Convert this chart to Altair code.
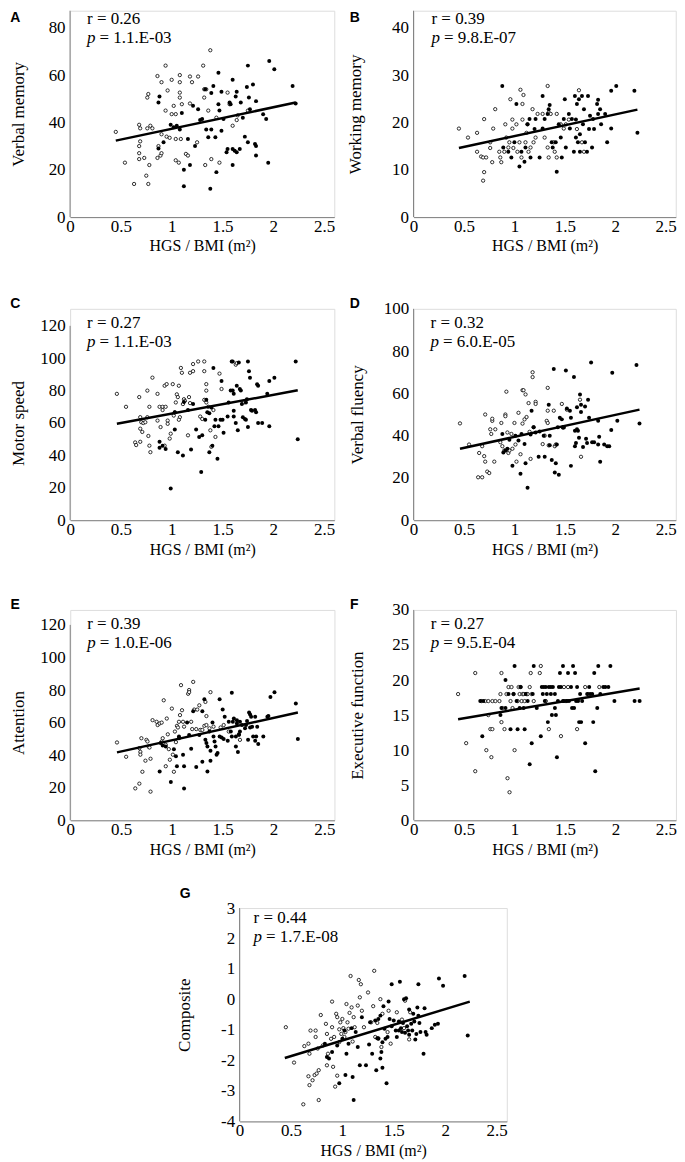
import altair as alt
import pandas as pd

SERIF = "Liberation Serif, Times New Roman, DejaVu Serif, serif"
SANS = "Liberation Sans, Arial, DejaVu Sans, sans-serif"
AXIS_COLOR = "#808080"

X_TICKS = [0, 0.5, 1, 1.5, 2, 2.5]
X_TITLE = "HGS / BMI (m²)"

# ---------------- Panel A: Verbal memory ----------------
A_open = [(0.45,36),(0.54,23),(0.63,14),(0.68,39),(0.69,37.5),(0.68,30),(0.69,32),(0.68,27),(0.68,24.5),(0.73,25),
          (0.75,17.5),(0.77,14),(0.78,22),(0.76,37.5),(0.79,38.6),(0.81,37.5),(0.76,50.5),(0.77,52),(0.86,59.6),(0.86,25),
          (0.87,30),(0.89,26),(0.9,27),(0.9,35),(0.9,57),(0.94,64),(0.94,45),(0.96,53.5),(0.95,34),(0.98,33.5),
          (1.0,58),(1.0,43.5),(1.04,43.5),(1.02,47),(1.04,33),(1.04,24),(1.07,23),(1.08,50.5),(1.08,52.6),(1.08,60),
          (1.08,57),(1.1,47.7),(1.09,33),(1.14,26.7),(1.16,26),(1.18,59.4),(1.18,48),(1.2,57),(1.26,59.4),(1.25,31.6),
          (1.31,64),(1.32,54),(1.32,50.5),(1.33,22),(1.34,54),(1.36,45),(1.38,70.5),(1.39,24.5),(1.44,42),(1.47,23),
          (1.55,52.6),(1.57,47.7),(1.6,38.6),(1.64,41),(1.65,43),(1.75,45)]
A_fill = [(0.87,48.4),(0.88,51),(0.87,29),(0.92,31.6),(0.99,39),(1.02,38),(1.05,38.6),(1.08,37),(1.1,44),(1.12,20),
          (1.12,13),(1.16,33),(1.18,22),(1.21,47),(1.23,30),(1.26,45.6),(1.28,41),(1.3,41.4),(1.33,54),(1.34,37),
          (1.36,33.7),(1.38,12),(1.39,37),(1.39,52.4),(1.41,55.4),(1.43,33.7),(1.44,19),(1.46,61),(1.46,47.7),(1.47,45),
          (1.49,36.5),(1.49,53),(1.51,41.4),(1.54,27.4),(1.55,28.8),(1.57,48.4),(1.58,47.7),(1.6,22),(1.6,58),(1.6,28.8),
          (1.62,28),(1.63,51),(1.64,53),(1.64,27.4),(1.67,28.8),(1.68,48.4),(1.7,42),(1.72,34),(1.74,55),(1.75,64),
          (1.76,50.5),(1.75,31.6),(1.77,45.6),(1.8,56),(1.82,30.9),(1.83,30),(1.83,26),(1.83,49),(1.9,43.5),(1.93,41.4),
          (1.95,23),(1.96,66),(2.01,62.5),(2.19,55.4),(2.22,48)]
A_line = [(0.45,32.3),(2.22,48.4)]

# ---------------- Panel B: Working memory ----------------
B_open = [(0.45,18.7),(0.54,16.8),(0.63,17.8),(0.63,13.8),(0.67,12.8),(0.69,12.6),(0.7,20.7),(0.7,9.5),(0.69,7.7),(0.72,12.6),
          (0.76,15.8),(0.76,14.6),(0.78,11.6),(0.79,18.7),(0.81,22.8),(0.85,13.8),(0.86,12.6),(0.87,11.6),(0.9,13.8),(0.91,19.6),
          (0.92,16.8),(0.94,14.7),(0.95,15.8),(0.96,24.9),(0.98,20.6),(0.98,18.7),(0.99,14.6),(1.02,19.6),(1.03,13.8),(1.05,15.8),
          (1.06,26.9),(1.07,12.6),(1.08,20.6),(1.08,23.9),(1.09,25.8),(1.11,15.8),(1.12,17.8),(1.13,19.6),(1.14,13.8),(1.16,14.7),
          (1.18,22.8),(1.19,15.8),(1.21,16.8),(1.23,21.8),(1.28,21.8),(1.3,16.8),(1.33,27.7),(1.33,14.7),(1.34,22.1),(1.34,12.6),
          (1.36,21.8),(1.39,15.8),(1.4,13.8),(1.42,12.6),(1.42,21.8),(1.46,19.6),(1.49,18.7),(1.51,19.6),(1.54,20.6),(1.62,18.6),
          (1.64,26.8),(1.67,15.8),(1.69,13.8)]
B_fill = [(0.88,27.7),(0.89,14.7),(0.94,13.8),(0.97,12.6),(1.0,15.8),(1.02,23.9),(1.05,10.7),(1.07,13.8),(1.1,11.7),(1.11,14.7),
          (1.13,19.6),(1.15,20.7),(1.16,12.6),(1.2,18.6),(1.21,20.7),(1.25,12.6),(1.28,18.7),(1.28,25.6),(1.3,20.7),(1.33,21.8),
          (1.34,22.8),(1.35,23.7),(1.37,15.8),(1.38,14.7),(1.41,15.8),(1.42,9.6),(1.44,19.6),(1.46,16.8),(1.47,12.6),(1.49,20.7),
          (1.5,24.9),(1.51,14.7),(1.54,21.8),(1.55,18.7),(1.57,20.7),(1.59,13.8),(1.6,25.6),(1.61,16.8),(1.61,20.6),(1.62,23.9),
          (1.63,15.8),(1.64,24.9),(1.65,17.5),(1.65,13.8),(1.67,25.6),(1.68,19.6),(1.69,22.8),(1.7,15.8),(1.72,13.8),(1.73,25.6),
          (1.74,18.6),(1.75,21.4),(1.77,14.7),(1.78,20.7),(1.79,18.6),(1.82,23.9),(1.83,24.8),(1.83,21.8),(1.85,22.8),(1.86,19.6),
          (1.9,21.8),(1.92,15.8),(1.96,18.7),(1.96,26.7),(2.01,27.7),(2.19,26.7),(2.22,17.8)]
B_line = [(0.45,14.6),(2.22,22.7)]

# ---------------- Panel C: Motor speed ----------------
C_open = [(0.46,78),(0.55,70),(0.64,48),(0.65,46.4),(0.68,76),(0.69,63.6),(0.7,60.5),(0.69,56.5),(0.71,54.5),(0.69,48.4),
          (0.72,60),(0.74,60.5),(0.76,80),(0.76,63.6),(0.77,52),(0.78,46),(0.79,42),(0.81,88),(0.78,70),(0.86,78),
          (0.86,61.5),(0.88,70),(0.89,57.5),(0.91,70),(0.91,68),(0.93,83),(0.93,46),(0.94,70),(0.95,84),(0.96,61.5),
          (0.96,59.5),(0.98,50.4),(0.99,53.4),(1.01,84),(1.02,64.6),(1.03,66.6),(1.04,72.7),(1.05,77.7),(1.06,76),(1.07,83),
          (1.08,63.6),(1.07,62),(1.09,94),(1.1,91),(1.11,71.7),(1.12,74.7),(1.13,73.7),(1.16,52.4),(1.17,76),(1.18,72.3),
          (1.18,91),(1.21,92),(1.21,96.4),(1.26,98),(1.28,64),(1.3,62.5),(1.32,98),(1.32,92),(1.32,74.3),(1.34,84),
          (1.34,80),(1.34,72.7),(1.36,70),(1.38,55.5),(1.39,45.3),(1.41,68),(1.43,51.4),(1.47,90.5),(1.49,81),(1.63,96),
          (1.64,97),(1.71,72.7)]
C_fill = [(0.88,48.4),(0.88,44.7),(0.91,46),(0.94,44),(0.99,19.6),(1.03,56),(1.03,66.6),(1.06,42),(1.11,40),(1.12,73),
          (1.16,68),(1.19,43.7),(1.21,71.7),(1.24,56),(1.27,51.4),(1.29,29.8),(1.3,52.4),(1.33,62),(1.34,74.3),(1.35,66.6),
          (1.37,42),(1.37,66),(1.39,69.6),(1.41,94),(1.4,46),(1.42,58),(1.43,62),(1.45,38),(1.46,58),(1.48,62),
          (1.49,86),(1.5,62),(1.51,54),(1.55,64),(1.56,72.7),(1.58,80),(1.59,98),(1.6,80),(1.6,98),(1.61,78),
          (1.61,64),(1.61,67.6),(1.63,60),(1.64,83),(1.65,55.5),(1.66,97.4),(1.67,81),(1.68,80),(1.69,71.7),(1.7,63.6),
          (1.72,62.5),(1.73,72.7),(1.73,62),(1.74,74.7),(1.75,98),(1.75,57.5),(1.76,92),(1.77,88),(1.78,68),(1.79,67.6),
          (1.82,68),(1.83,66.6),(1.84,84),(1.85,83),(1.85,60),(1.89,60),(1.94,78),(1.96,86),(1.96,58),(2.01,88),
          (2.22,98),(2.24,50)]
C_line = [(0.46,59.5),(2.24,80.2)]

# ---------------- Panel D: Verbal fluency ----------------
D_open = [(0.46,45.8),(0.55,35.8),(0.65,31.8),(0.64,20.3),(0.68,20.3),(0.68,35),(0.7,30.3),(0.71,27.7),(0.71,50),(0.73,23),
          (0.75,22.3),(0.76,43),(0.77,40.8),(0.78,47),(0.78,48),(0.8,27.7),(0.81,43),(0.86,36.9),(0.87,46),(0.88,35),
          (0.9,33),(0.91,50),(0.91,49.2),(0.92,60.8),(0.93,41.5),(0.94,31.8),(0.95,33),(0.97,40.8),(0.98,33.8),(1.0,46),
          (1.01,35.8),(1.02,27.7),(1.04,50.8),(1.06,31.2),(1.08,45.7),(1.08,61.5),(1.09,61.5),(1.1,47.7),(1.11,59.5),(1.12,48.8),
          (1.14,55.4),(1.15,41.8),(1.16,29),(1.18,70),(1.18,67.7),(1.19,44),(1.21,56),(1.21,55),(1.28,36),(1.3,40),
          (1.32,47),(1.33,46),(1.33,62.6),(1.33,51.8),(1.34,35.4),(1.39,51.8),(1.4,35),(1.41,35.8),(1.47,55),(1.48,43.8),
          (1.52,52.3),(1.65,57),(1.66,30)]
D_fill = [(0.88,40.8),(0.89,32),(0.91,33),(0.93,33.8),(0.95,38),(0.98,25.8),(1.01,40),(1.04,37.7),(1.06,22),(1.07,40.8),
          (1.1,36),(1.11,26.9),(1.13,15.4),(1.16,40.5),(1.17,51.8),(1.19,44),(1.21,41.5),(1.24,30),(1.25,42),(1.29,40),
          (1.3,30),(1.34,54.6),(1.35,40),(1.35,35.4),(1.37,28.5),(1.39,71.5),(1.4,22.6),(1.41,26.9),(1.42,35.8),(1.43,44),
          (1.44,21.5),(1.45,48.5),(1.47,47.7),(1.48,44),(1.49,43.8),(1.51,70.8),(1.52,52.8),(1.55,51.8),(1.56,48.5),(1.56,25.7),
          (1.59,67.7),(1.6,35),(1.6,42.3),(1.61,36.5),(1.62,43),(1.62,53.4),(1.63,42.3),(1.64,39),(1.65,59.5),(1.66,54.6),
          (1.66,51.2),(1.68,34.6),(1.7,53.8),(1.71,38.5),(1.72,36.5),(1.73,57),(1.74,48.5),(1.76,74.6),(1.77,36.9),(1.79,36.9),
          (1.83,47),(1.83,35.8),(1.84,39.5),(1.85,27.7),(1.89,35.8),(1.92,35),(1.94,35),(1.96,42.7),(1.97,69.7),(2.02,47),
          (2.21,73.4),(2.24,45.8)]
D_line = [(0.46,33.8),(2.24,52.3)]

# ---------------- Panel E: Attention ----------------
E_open = [(0.46,47.8),(0.55,39),(0.64,19.6),(0.68,22.5),(0.68,44.3),(0.69,42),(0.69,40.3),(0.7,50.4),(0.71,29.8),(0.74,36.6),
          (0.75,49.4),(0.76,48.4),(0.77,45.3),(0.78,44.7),(0.79,37.8),(0.79,17.6),(0.81,61.5),(0.85,60.5),(0.86,58.5),(0.88,59.5),
          (0.9,60),(0.9,48.4),(0.91,50.4),(0.92,73.7),(0.94,33.2),(0.94,46.4),(0.95,62.5),(0.96,52.8),(0.97,43.7),(0.98,37.2),
          (1.0,68.6),(1.01,40.3),(1.02,29.8),(1.03,54.5),(1.04,48),(1.05,58),(1.06,57),(1.07,60.5),(1.08,64.6),(1.09,83),
          (1.1,67.6),(1.11,60.5),(1.12,57.5),(1.16,77.7),(1.17,80),(1.17,78.7),(1.19,60.5),(1.2,56),(1.21,85),(1.22,68),
          (1.24,56),(1.25,68),(1.27,70.6),(1.28,55.5),(1.3,55.5),(1.32,58),(1.33,72.7),(1.34,64),(1.34,58.5),(1.37,56.5),
          (1.38,78.7),(1.41,57.5),(1.48,57),(1.51,58.5),(1.56,54.5),(1.66,52.4),(1.67,49.4)]
E_fill = [(0.88,30),(0.89,47.4),(0.91,46),(0.94,45.3),(0.99,23.5),(1.02,43.7),(1.04,39.3),(1.05,33.2),(1.07,50.4),(1.07,51.4),
          (1.11,40.3),(1.12,19.6),(1.12,33.2),(1.15,60),(1.17,52.4),(1.19,43.9),(1.21,67),(1.24,32.8),(1.27,52.4),(1.3,36),
          (1.3,67),(1.32,74.3),(1.33,49.4),(1.34,47.4),(1.35,45.3),(1.35,30),(1.37,54.5),(1.38,42.7),(1.38,36.6),(1.4,60),
          (1.41,51.4),(1.42,48.4),(1.43,45.3),(1.44,40.3),(1.45,41.3),(1.47,74.3),(1.47,51.4),(1.49,50.8),(1.5,68),(1.51,50),
          (1.52,63.6),(1.55,48.8),(1.56,60.5),(1.58,54.5),(1.59,78.3),(1.59,51.4),(1.6,60.5),(1.61,62.5),(1.63,51.4),(1.63,45.3),
          (1.64,61.5),(1.64,59.5),(1.65,41.9),(1.66,52.8),(1.67,60.5),(1.67,54.5),(1.69,58.5),(1.72,56.5),(1.73,58.5),(1.74,61),
          (1.75,49.4),(1.76,66.2),(1.77,65),(1.77,57),(1.78,63.6),(1.79,57.5),(1.8,51.4),(1.82,63.6),(1.82,48.8),(1.83,51.4),
          (1.84,57.5),(1.85,46.8),(1.9,51.4),(1.94,63.6),(1.95,64),(1.97,75.7),(2.01,78.7),(2.22,71.7),(2.24,50)]
E_line = [(0.46,41.7),(2.24,66.2)]

# ---------------- Panel F: Executive function ----------------
F_open = [(0.44,18),(0.52,11),(0.61,21),(0.61,7),(0.67,17),(0.71,17),(0.72,10),(0.74,15),(0.74,17),(0.76,13),
          (0.77,9),(0.78,13),(0.78,17),(0.81,17),(0.85,17),(0.86,18),(0.87,21),(0.87,14),(0.88,16),(0.9,13),
          (0.92,18),(0.93,6),(0.94,19),(0.95,4),(0.96,17),(0.97,19),(0.98,16),(0.99,18),(1.0,10),(1.03,17),
          (1.04,19),(1.05,18),(1.06,19),(1.07,17),(1.08,18),(1.09,18),(1.1,17),(1.12,18),(1.13,18),(1.15,19),
          (1.16,21),(1.17,18),(1.19,17),(1.25,21),(1.26,22),(1.31,17),(1.34,13),(1.46,12),(1.49,19),(1.51,17),
          (1.53,19),(1.62,13),(1.7,19),(1.73,18),(1.84,19)]
F_fill = [(0.66,17),(0.68,12),(0.69,17),(0.86,15),(0.87,16),(0.91,20),(0.91,16),(0.94,18),(0.96,13),(0.99,18),
          (1.0,22),(1.02,17),(1.03,13),(1.05,16),(1.06,19),(1.09,16),(1.1,13),(1.11,18),(1.13,17),(1.15,8),
          (1.17,11),(1.18,18),(1.19,22),(1.22,16),(1.26,12),(1.27,19),(1.28,18),(1.29,19),(1.3,17),(1.31,19),
          (1.32,18),(1.33,14),(1.34,19),(1.36,19),(1.36,18),(1.37,15),(1.38,19),(1.4,18),(1.4,16),(1.41,15),
          (1.42,9),(1.43,17),(1.44,19),(1.45,21),(1.46,19),(1.48,17),(1.48,22),(1.49,17),(1.52,17),(1.53,21),
          (1.54,17),(1.56,19),(1.57,16),(1.58,22),(1.59,16),(1.6,21),(1.61,17),(1.62,19),(1.63,17),(1.64,14),
          (1.65,18),(1.66,14),(1.67,17),(1.7,11),(1.72,18),(1.74,19),(1.75,18),(1.77,18),(1.78,14),(1.79,21),
          (1.8,7),(1.82,16),(1.83,22),(1.85,18),(1.88,19),(1.9,19),(1.93,19),(1.95,22),(1.99,17),(2.19,17),
          (2.24,17)]
F_line = [(0.44,14.4),(2.24,18.8)]

# ---------------- Panel G: Composite ----------------
G_open = [(0.45,-0.91),(0.53,-2.07),(0.62,-3.44),(0.63,-1.53),(0.67,-1.45),(0.67,-2.52),(0.68,-2.81),(0.68,-1.78),(0.69,-1.02),(0.71,-2.65),
          (0.73,-2.48),(0.74,-1.23),(0.74,-1.02),(0.75,-2.43),(0.76,-1.61),(0.77,-2.32),(0.77,-3.3),(0.79,-0.51),(0.81,-1.51),(0.84,-0.8),
          (0.85,-2.16),(0.85,-1.13),(0.86,-1.78),(0.89,-1.29),(0.9,-0.07),(0.9,-0.91),(0.91,-2.21),(0.92,-1.23),(0.93,-2.86),(0.94,-0.47),
          (0.95,-0.58),(0.95,-2.5),(0.97,-1.4),(0.97,-0.98),(0.98,-0.75),(0.99,-1.13),(1.0,-0.64),(1.01,-0.94),(1.02,-1.23),(1.03,-1.07),
          (1.04,-0.15),(1.05,-0.75),(1.06,-0.96),(1.07,-0.44),(1.08,0.77),(1.09,-0.26),(1.1,-1.38),(1.11,-0.58),(1.12,-0.91),(1.15,-0.2),
          (1.16,0.64),(1.17,0.07),(1.18,0.5),(1.19,-0.37),(1.21,-0.91),(1.25,0.23),(1.28,-0.75),(1.3,-0.22),(1.31,0.94),(1.32,-1.23),
          (1.34,-0.77),(1.35,-1.27),(1.37,0.01),(1.38,-1.56),(1.39,-0.47),(1.44,-1.07),(1.45,-0.37),(1.47,-1.45),(1.53,-0.42),(1.58,-0.66),
          (1.6,-0.94),(1.61,-0.04),(1.65,-1.31),(1.66,-0.42)]
G_fill = [(0.83,-1.45),(0.85,-1.89),(0.87,-1.94),(0.9,-1.72),(0.95,-1.51),(0.97,-2.75),(1.0,-1.29),(1.02,-1.02),(1.03,-2.48),(1.04,-1.78),
          (1.06,-1.45),(1.09,-0.94),(1.1,-2.54),(1.11,-3.3),(1.13,-1.07),(1.15,-1.56),(1.17,-2.16),(1.19,-0.58),(1.23,-2.16),(1.26,-1.48),
          (1.27,-0.75),(1.29,-1.78),(1.32,-0.69),(1.33,-2.32),(1.34,-1.27),(1.35,-1.29),(1.35,-0.64),(1.37,-1.94),(1.37,-0.53),(1.38,-1.72),
          (1.39,-1.4),(1.39,-2.24),(1.4,-0.22),(1.41,-0.96),(1.42,-1.29),(1.43,-2.75),(1.44,-1.23),(1.45,-0.07),(1.46,-0.64),(1.48,0.5),
          (1.48,-0.88),(1.5,-0.69),(1.52,-1.02),(1.53,-1.23),(1.55,-0.72),(1.55,-1.02),(1.56,0.58),(1.57,-0.94),(1.58,-1.07),(1.59,-0.77),
          (1.6,0.01),(1.61,-1.09),(1.62,0.04),(1.63,-0.88),(1.64,-1.02),(1.65,-1.16),(1.65,-0.33),(1.67,-0.8),(1.68,-1.02),(1.69,-0.47),
          (1.7,-0.72),(1.71,-1.31),(1.72,-1.13),(1.73,-0.26),(1.74,0.5),(1.74,-0.53),(1.75,-0.77),(1.76,-1.07),(1.79,-1.78),(1.8,-0.29),
          (1.81,-1.07),(1.82,-1.16),(1.87,-0.94),(1.9,-0.83),(1.93,-0.8),(1.94,0.69),(1.98,0.45),(2.19,0.77),(2.22,-1.18)]
G_line = [(0.44,-1.92),(2.24,-0.07)]


def panel(letter, ytitle, opn, fil, line, ydom, yticks, ytop, w, h,
          r_txt, p_txt, txt_x, r_y, p_y, let_x, let_y, title_x):
    xs = alt.Scale(domain=[0, 2.6], nice=False, zero=False)
    ys = alt.Scale(domain=ydom, nice=False, zero=False)
    top_px = h * (ydom[1] - ytop) / (ydom[1] - ydom[0])
    xaxis = alt.Axis(values=X_TICKS, tickCount=50, title=X_TITLE, labelExpr="'' + datum.value",
                     ticks=False, grid=False, domainColor=AXIS_COLOR, labelPadding=1.5,
                     titlePadding=3.5, labelFlush=False, labelOverlap=False,
                     labelFont=SERIF, titleFont=SERIF, labelFontSize=17, titleFontSize=16,
                     labelColor="black", titleColor="black", titleFontWeight="normal")
    yaxis = alt.Axis(values=yticks, tickCount=50, title=ytitle, labelExpr="'' + datum.value",
                     domain=False, ticks=False, grid=False, labelPadding=5, labelOverlap=False,
                     labelFont=SERIF, titleFont=SERIF, labelFontSize=17, titleFontSize=17,
                     labelColor="black", titleColor="black", titleFontWeight="normal",
                     titleX=title_x, titleY=(top_px + h) / 2, titleAngle=270,
                     titleBaseline="middle", titleAlign="center")
    o_df = pd.DataFrame(opn, columns=["x", "y"])
    f_df = pd.DataFrame(fil, columns=["x", "y"])
    l_df = pd.DataFrame(line, columns=["x", "y"])
    a_df = pd.DataFrame({"y": [ydom[0]], "yt": [ytop]})

    pts_o = alt.Chart(o_df).mark_circle(fill="white", stroke="black", strokeWidth=0.8,
                                        size=11, opacity=1).encode(
        x=alt.X("x:Q", scale=xs, axis=xaxis), y=alt.Y("y:Q", scale=ys, axis=yaxis))
    pts_f = alt.Chart(f_df).mark_circle(color="black", size=16, opacity=1).encode(
        x=alt.X("x:Q", scale=xs), y=alt.Y("y:Q", scale=ys))
    reg = alt.Chart(l_df).mark_line(color="black", strokeWidth=2.5).encode(
        x=alt.X("x:Q", scale=xs), y=alt.Y("y:Q", scale=ys))
    yline = alt.Chart(a_df).mark_rule(color=AXIS_COLOR, strokeWidth=1).encode(
        x=alt.value(0), y=alt.Y("y:Q", scale=ys), y2="yt:Q")

    def txt(s, x, y, **kw):
        return alt.Chart(pd.DataFrame({"t": [s]})).mark_text(
            align="left", color="black", **kw).encode(
            text="t:N", x=alt.value(x), y=alt.value(y))

    t_let = txt(letter, let_x, let_y, font=SANS, fontWeight="bold", fontSize=14, baseline="top")
    t_r = txt(r_txt, txt_x, r_y, font=SERIF, fontSize=17, baseline="middle")
    t_p = txt("p", txt_x, p_y, font=SERIF, fontSize=17, fontStyle="italic", baseline="middle")
    t_p2 = txt(p_txt, txt_x + 12.5, p_y, font=SERIF, fontSize=17, baseline="middle")

    return alt.layer(pts_o, pts_f, reg, yline, t_let, t_r, t_p, t_p2).properties(width=w, height=h)


pA = panel("A", "Verbal memory", A_open, A_fill, A_line, [0, 87.2], [0, 20, 40, 60, 80], 87.2, 265, 207,
           "r = 0.26", "= 1.1.E-03", 17, 8.5, 27.5, -60, 0, -52)
pB = panel("B", "Working memory", B_open, B_fill, B_line, [0, 43.6], [0, 10, 20, 30, 40], 43.6, 263, 207,
           "r = 0.39", "= 9.8.E-07", 18, 8.5, 27.5, -64, 0, -58)
pC = panel("C", "Motor speed", C_open, C_fill, C_line, [0, 130.5], [0, 20, 40, 60, 80, 100, 120], 120, 265, 212,
           "r = 0.27", "= 1.1.E-03", 17, 14, 33, -60, -12, -52)
pD = panel("D", "Verbal fluency", D_open, D_fill, D_line, [0, 100], [0, 20, 40, 60, 80, 100], 100, 263, 212,
           "r = 0.32", "= 6.0.E-05", 17, 14, 33, -64, -12, -56)
pE = panel("E", "Attention", E_open, E_fill, E_line, [0, 129.2], [0, 20, 40, 60, 80, 100, 120], 120, 265, 211,
           "r = 0.39", "= 1.0.E-06", 17, 14, 33, -60, -12, -52)
pF = panel("F", "Executive function", F_open, F_fill, F_line, [0, 30], [0, 5, 10, 15, 20, 25, 30], 30, 263, 211,
           "r = 0.27", "= 9.5.E-04", 17, 14, 33, -64, -12, -56)
pG = panel("G", "Composite", G_open, G_fill, G_line, [-4, 3], [-4, -3, -2, -1, 0, 1, 2, 3], 3, 268, 214,
           "r = 0.44", "= 1.7.E-08", 14, 10, 29, -60, -21, -55)

row1 = alt.hconcat(pA, pB, spacing=79.5, bounds="flush")
row2 = alt.hconcat(pC, pD, spacing=79.5, bounds="flush")
row3 = alt.hconcat(pE, pF, spacing=79.5, bounds="flush")

v3 = alt.vconcat(row3, pG, spacing=28, center=True)
v2 = alt.vconcat(row2, v3, spacing=39, center=True)
chart = alt.vconcat(row1, v2, spacing=41, center=True, padding=0).configure_view(
    strokeWidth=0).configure(font=SERIF)

chart.save("out.html", embed_options={"renderer": "svg", "actions": False})
